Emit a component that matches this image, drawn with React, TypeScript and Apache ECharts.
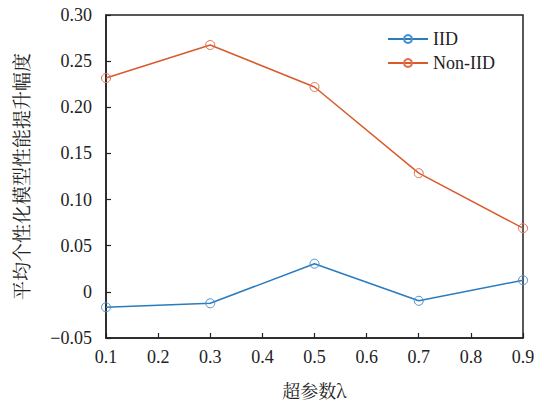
import React, { useEffect, useRef } from "react";
import * as echarts from "echarts";

const lambdas = [0.1, 0.3, 0.5, 0.7, 0.9];
const iidValues = [-0.0167, -0.0124, 0.0305, -0.0097, 0.0126];
const nonIidValues = [0.2317, 0.2675, 0.222, 0.1286, 0.069];
const seriesNames = ["IID", "Non-IID"];
const xAxisTitle = "超参数λ";
const yAxisTitle = "平均个性化模型性能提升幅度";

const FONT = "serif";
const CJK_FONT = "'Noto Serif CJK SC'";

export default function App() {
  const ref = useRef<HTMLDivElement>(null);
  useEffect(() => {
    if (!ref.current) return;
    const chart = echarts.init(ref.current, null, { renderer: "svg" });
    const mk = (vals: number[]) => lambdas.map((x, i) => [x, vals[i]]);
    chart.setOption({
      animation: false,
      backgroundColor: "#fff",
      grid: {
        left: 106,
        top: 15,
        width: 417,
        height: 323,
        show: true,
        borderColor: "#222",
        borderWidth: 1.5,
        backgroundColor: "transparent",
      },
      legend: {
        orient: "vertical",
        left: 382,
        top: 25,
        itemWidth: 40,
        itemHeight: 10,
        itemGap: 6,
        data: seriesNames,
        textStyle: { fontFamily: FONT, fontSize: 18, color: "#222" },
      },
      xAxis: {
        type: "value",
        min: 0.1,
        max: 0.9,
        interval: 0.1,
        name: xAxisTitle,
        nameLocation: "middle",
        nameGap: 43,
        nameTextStyle: { fontFamily: CJK_FONT, fontSize: 18, color: "#222" },
        axisLine: { show: true, onZero: false, lineStyle: { color: "#222", width: 1.5 } },
        axisTick: { show: true, inside: true, length: 5, lineStyle: { color: "#222", width: 1.2 } },
        axisLabel: {
          fontFamily: FONT,
          fontSize: 18,
          color: "#222",
          margin: 10,
          formatter: (v: number) => v.toFixed(1),
        },
        splitLine: { show: false },
      },
      yAxis: {
        type: "value",
        min: -0.05,
        max: 0.3,
        interval: 0.05,
        name: yAxisTitle,
        nameLocation: "middle",
        nameGap: 76,
        nameTextStyle: { fontFamily: CJK_FONT, fontSize: 19, color: "#222" },
        axisLine: { show: true, onZero: false, lineStyle: { color: "#222", width: 1.5 } },
        axisTick: { show: true, inside: true, length: 5, lineStyle: { color: "#222", width: 1.2 } },
        axisLabel: {
          fontFamily: FONT,
          fontSize: 18,
          color: "#222",
          margin: 14,
          formatter: (v: number) => {
            if (Math.abs(v) < 1e-9) return "0";
            const s = Math.abs(v).toFixed(2);
            return v < 0 ? "\u2212" + s : s;
          },
        },
        splitLine: { show: false },
      },
      series: [
        {
          name: seriesNames[0],
          type: "line",
          data: mk(iidValues),
          symbol: "circle",
          symbolSize: 9,
          color: "#2A7BC0",
          lineStyle: { width: 1.5, color: "#2A7BC0" },
          itemStyle: { color: "rgba(0,0,0,0)", borderColor: "#4A90D0", borderWidth: 1 },
        },
        {
          name: seriesNames[1],
          type: "line",
          data: mk(nonIidValues),
          symbol: "circle",
          symbolSize: 9,
          color: "#D95A2B",
          lineStyle: { width: 1.5, color: "#D95A2B" },
          itemStyle: { color: "rgba(0,0,0,0)", borderColor: "#E07050", borderWidth: 1 },
        },
      ],
    });
    return () => chart.dispose();
  }, []);
  return (
    <div
      ref={ref}
      style={{ position: "fixed", left: 0, top: 0, width: 544, height: 405, background: "#fff" }}
    />
  );
}
